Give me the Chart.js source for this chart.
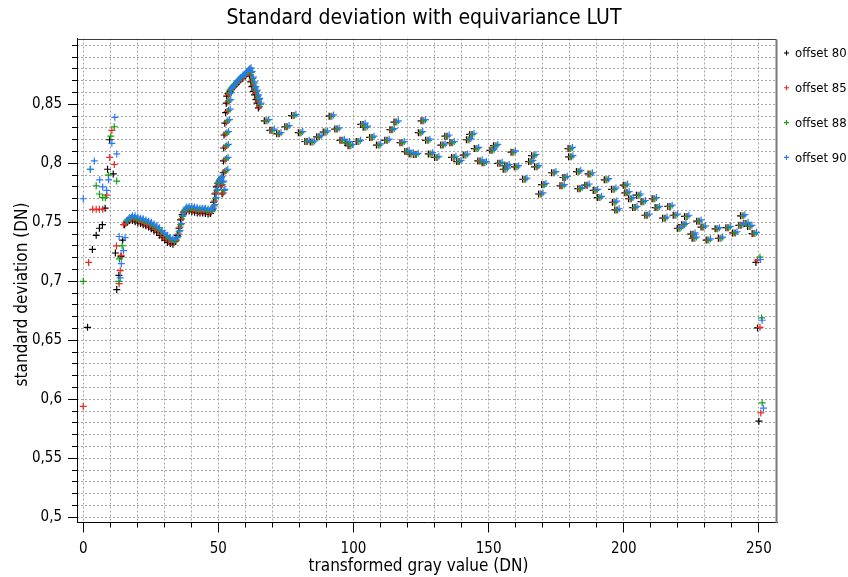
<!DOCTYPE html>
<html>
<head>
<meta charset="utf-8">
<script src="https://cdn.jsdelivr.net/npm/chart.js@4.4.1/dist/chart.umd.min.js"></script>
<style>
  html, body { margin: 0; padding: 0; background: #ffffff; }
  canvas { display: block; }
</style>
</head>
<body>
<canvas id="chart" width="848" height="577"></canvas>
<script>
// Series names and colours
const seriesLabels = ['offset 80', 'offset 85', 'offset 88', 'offset 90'];
const seriesColors = ['#000000', '#f02828', '#12a012', '#2a78ff'];

// Tick values that carry a label
const xLabelValues = [0, 50, 100, 150, 200, 250];
const yLabelValues = [0.5, 0.55, 0.6, 0.65, 0.7, 0.75, 0.8, 0.85];

// offset 80
const x80 = [
  1.6,3.4,4.8,6.0,7.1,8.1,9.0,9.8,11.1,11.9,12.4,13.2,14.0,14.6,
  15.3,16.2,17.2,18.2,19.2,20.2,21.2,22.2,23.2,24.2,25.2,26.2,27.2,28.2,29.2,30.2,31.2,32.2,33.2,34.1,34.8,35.4,36.0,36.6,37.3,38.2,39.2,40.2,41.2,42.2,43.2,44.2,45.2,46.2,47.1,47.7,48.2,48.7,49.2,49.8,50.4,51.0,51.4,
  51.8,51.9,52.0,52.1,52.4,52.7,52.9,53.1,
  53.6,54.3,55.0,55.8,56.6,57.4,58.2,59.0,59.8,60.5,61.1,
  61.5,62.0,62.4,62.9,63.4,63.9,64.3,64.8,
  67.0,69.1,71.6,74.6,77.1,79.6,82.0,84.0,86.4,88.8,91.0,93.1,95.0,96.9,98.0,101.0,102.7,103.6,106.0,108.5,
  111.6,113.5,115.0,117.2,119.0,120.6,122.3,124.0,125.0,126.7,127.7,130.0,132.3,133.8,135.7,136.3,138.2,140.6,141.8,143.0,
  144.7,146.0,147.6,150.5,151.8,153.4,155.4,156.0,158.3,159.5,162.6,164.8,165.9,167.0,168.5,169.6,173.3,176.4,177.5,179.4,
  179.6,182.5,183.0,185.6,186.8,188.7,190.2,192.8,195.5,195.8,196.7,199.8,200.4,201.8,203.3,204.7,206.4,207.8,210.5,211.6,
  214.4,216.3,218.3,219.8,221.4,222.5,224.8,225.3,227.0,228.6,230.5,233.8,235.0,237.8,240.3,242.6,243.2,244.4,245.8,247.5,
  248.9,249.5,250.0
];
const y80 = [
  0.661,0.727,0.739,0.745,0.748,0.762,0.795,0.820,0.791,0.724,0.693,0.705,0.721,0.735,
  0.748,0.750,0.7515,0.7515,0.7505,0.7495,0.749,0.748,0.747,0.746,0.7445,0.743,0.7415,0.739,0.737,0.735,0.733,0.732,0.7315,0.734,0.739,0.745,0.752,0.7565,0.759,0.7595,0.7595,0.759,0.7585,0.758,0.758,0.758,0.7575,0.757,0.7575,0.761,0.767,0.774,0.780,0.783,0.785,0.781,0.774,
  0.792,0.802,0.813,0.824,0.834,0.843,0.851,0.857,
  0.859,0.861,0.863,0.865,0.867,0.869,0.871,0.872,0.874,0.876,0.877,
  0.874,0.869,0.865,0.861,0.858,0.854,0.851,0.847,
  0.836,0.828,0.825,0.831,0.8405,0.826,0.8185,0.818,0.8225,0.8265,0.840,0.829,0.8195,0.8175,0.815,0.8185,0.833,0.8305,0.822,0.8155,
  0.8195,0.8285,0.835,0.8175,0.810,0.808,0.8075,0.826,0.836,0.8195,0.808,0.805,0.8155,0.823,0.8175,0.805,0.8015,0.807,0.820,0.8245,
  0.8125,0.802,0.8005,0.811,0.815,0.800,0.795,0.798,0.8095,0.797,0.7865,0.8015,0.8065,0.797,0.774,0.782,0.792,0.781,0.788,0.8125,
  0.8055,0.793,0.7785,0.7815,0.791,0.777,0.771,0.786,0.778,0.767,0.7605,0.7815,0.775,0.770,0.7625,0.773,0.7675,0.756,0.770,0.7625,
  0.7535,0.7635,0.756,0.745,0.748,0.755,0.740,0.7365,0.751,0.746,0.735,0.7445,0.7365,0.7455,0.741,0.7475,0.7555,0.749,0.7465,0.7405,
  0.716,0.6605,0.5815
];

// offset 85
const x85 = [
  0.0,2.0,3.5,4.8,6.0,7.2,8.7,9.8,10.6,11.5,12.3,13.3,13.7,14.0,14.9,
  15.7,16.6,17.6,18.6,19.6,20.6,21.6,22.6,23.6,24.6,25.6,26.6,27.6,28.6,29.6,30.6,31.6,32.6,33.6,34.5,35.2,35.8,36.4,37.0,37.7,38.6,39.6,40.6,41.6,42.6,43.6,44.6,45.6,46.6,47.5,48.1,48.6,49.1,49.6,50.2,50.8,51.4,51.8,
  52.4,52.5,52.6,52.7,53.0,53.3,53.5,53.7,
  54.0,54.7,55.4,56.2,57.0,57.8,58.6,59.4,60.2,60.9,61.5,
  61.9,62.4,62.8,63.3,63.8,64.3,64.7,65.2,
  67.6,69.7,72.2,75.2,77.7,80.2,82.6,84.6,87.0,89.4,91.6,93.7,95.6,97.5,98.6,101.6,103.3,104.2,106.6,109.1,
  112.2,114.1,115.6,117.8,119.6,121.2,122.9,124.6,125.6,127.3,128.3,130.6,132.9,134.4,136.3,136.9,138.8,141.2,142.4,143.6,
  145.3,146.6,148.2,151.1,152.4,154.0,156.0,156.6,158.9,160.1,163.2,165.4,166.5,167.6,169.1,170.2,173.9,177.0,178.1,180.0,
  180.2,183.1,183.6,186.2,187.4,189.3,190.8,193.4,196.1,196.4,197.3,200.4,201.0,202.4,203.9,205.3,207.0,208.4,211.1,212.2,
  215.0,216.9,218.9,220.4,222.0,223.1,225.4,225.9,227.6,229.2,231.1,234.4,235.6,238.4,240.9,243.2,243.8,245.0,246.4,248.1,
  249.4,250.4,250.7
];
const y85 = [
  0.594,0.716,0.761,0.761,0.761,0.761,0.773,0.805,0.828,0.799,0.730,0.698,0.709,0.722,0.748,
  0.749,0.751,0.753,0.753,0.752,0.751,0.750,0.749,0.748,0.747,0.746,0.744,0.743,0.740,0.738,0.736,0.734,0.733,0.733,0.735,0.740,0.746,0.753,0.758,0.760,0.761,0.761,0.760,0.760,0.759,0.759,0.759,0.759,0.758,0.759,0.762,0.768,0.775,0.781,0.784,0.786,0.782,0.775,
  0.793,0.803,0.814,0.825,0.835,0.844,0.852,0.858,
  0.860,0.862,0.864,0.866,0.868,0.870,0.872,0.873,0.875,0.877,0.878,
  0.875,0.870,0.866,0.862,0.859,0.855,0.852,0.848,
  0.836,0.828,0.825,0.831,0.8405,0.826,0.8185,0.818,0.8225,0.8265,0.840,0.829,0.8195,0.8175,0.815,0.8185,0.833,0.8305,0.822,0.8155,
  0.8195,0.8285,0.835,0.8175,0.810,0.808,0.8075,0.826,0.836,0.8195,0.808,0.805,0.8155,0.823,0.8175,0.805,0.8015,0.807,0.820,0.8245,
  0.8125,0.802,0.8005,0.811,0.815,0.800,0.795,0.798,0.8095,0.797,0.7865,0.8015,0.8065,0.797,0.774,0.782,0.792,0.781,0.788,0.8125,
  0.8055,0.793,0.7785,0.7815,0.791,0.777,0.771,0.786,0.778,0.767,0.7605,0.7815,0.775,0.770,0.7625,0.773,0.7675,0.756,0.770,0.7625,
  0.7535,0.7635,0.756,0.745,0.748,0.755,0.740,0.7365,0.751,0.746,0.735,0.7445,0.7365,0.7455,0.741,0.7475,0.7555,0.749,0.7465,0.7405,
  0.718,0.661,0.5885
];

// offset 88
const x88 = [
  0.0,2.6,4.8,6.0,7.2,8.2,9.3,10.2,11.5,12.4,13.2,13.4,14.4,
  16.0,16.9,17.9,18.9,19.9,20.9,21.9,22.9,23.9,24.9,25.9,26.9,27.9,28.9,29.9,30.9,31.9,32.9,33.9,34.8,35.5,36.1,36.7,37.3,38.0,38.9,39.9,40.9,41.9,42.9,43.9,44.9,45.9,46.9,47.8,48.4,48.9,49.4,49.9,50.5,51.1,51.7,52.1,
  52.9,53.0,53.1,53.2,53.5,53.8,54.0,54.2,
  54.3,55.0,55.7,56.5,57.3,58.1,58.9,59.7,60.5,61.2,61.8,
  62.2,62.7,63.1,63.6,64.1,64.6,65.0,65.5,
  68.0,70.1,72.6,75.6,78.1,80.6,83.0,85.0,87.4,89.8,92.0,94.1,96.0,97.9,99.0,102.0,103.7,104.6,107.0,109.5,
  112.6,114.5,116.0,118.2,120.0,121.6,123.3,125.0,126.0,127.7,128.7,131.0,133.3,134.8,136.7,137.3,139.2,141.6,142.8,144.0,
  145.7,147.0,148.6,151.5,152.8,154.4,156.4,157.0,159.3,160.5,163.6,165.8,166.9,168.0,169.5,170.6,174.3,177.4,178.5,180.4,
  180.6,183.5,184.0,186.6,187.8,189.7,191.2,193.8,196.5,196.8,197.7,200.8,201.4,202.8,204.3,205.7,207.4,208.8,211.5,212.6,
  215.4,217.3,219.3,220.8,222.4,223.5,225.8,226.3,228.0,229.6,231.5,234.8,236.0,238.8,241.3,243.6,244.2,245.4,246.8,248.5,
  250.4,251.0,251.2
];
const y88 = [
  0.700,0.795,0.781,0.774,0.771,0.771,0.790,0.823,0.831,0.785,0.700,0.719,0.730,
  0.751,0.753,0.754,0.754,0.753,0.752,0.752,0.751,0.750,0.749,0.747,0.746,0.744,0.742,0.740,0.738,0.736,0.735,0.734,0.737,0.742,0.748,0.755,0.759,0.762,0.762,0.762,0.762,0.761,0.761,0.761,0.761,0.760,0.760,0.760,0.764,0.770,0.777,0.783,0.786,0.788,0.784,0.777,
  0.794,0.804,0.815,0.826,0.836,0.845,0.853,0.859,
  0.862,0.864,0.866,0.868,0.870,0.872,0.874,0.875,0.877,0.879,0.880,
  0.877,0.872,0.868,0.864,0.861,0.857,0.854,0.850,
  0.836,0.828,0.825,0.831,0.8405,0.826,0.8185,0.818,0.8225,0.8265,0.840,0.829,0.8195,0.8175,0.815,0.8185,0.833,0.8305,0.822,0.8155,
  0.8195,0.8285,0.835,0.8175,0.810,0.808,0.8075,0.826,0.836,0.8195,0.808,0.805,0.8155,0.823,0.8175,0.805,0.8015,0.807,0.820,0.8245,
  0.8125,0.802,0.8005,0.811,0.815,0.800,0.795,0.798,0.8095,0.797,0.7865,0.8015,0.8065,0.797,0.774,0.782,0.792,0.781,0.788,0.8125,
  0.8055,0.793,0.7785,0.7815,0.791,0.777,0.771,0.786,0.778,0.767,0.7605,0.7815,0.775,0.770,0.7625,0.773,0.7675,0.756,0.770,0.7625,
  0.7535,0.7635,0.756,0.745,0.748,0.755,0.740,0.7365,0.751,0.746,0.735,0.7445,0.7365,0.7455,0.741,0.7475,0.7555,0.749,0.7465,0.7405,
  0.7205,0.669,0.597
];

// offset 90
const x90 = [
  0.0,2.7,4.1,6.1,7.2,8.7,9.4,10.6,11.7,12.4,13.3,13.7,14.1,14.9,15.5,
  16.3,17.2,18.2,19.2,20.2,21.2,22.2,23.2,24.2,25.2,26.2,27.2,28.2,29.2,30.2,31.2,32.2,33.2,34.2,35.1,35.8,36.4,37.0,37.6,38.3,39.2,40.2,41.2,42.2,43.2,44.2,45.2,46.2,47.2,48.1,48.7,49.2,49.7,50.2,50.8,51.4,52.0,52.4,
  53.5,53.6,53.7,53.8,54.1,54.4,54.6,54.8,
  54.6,55.3,56.0,56.8,57.6,58.4,59.2,60.0,60.8,61.5,62.1,
  62.5,63.0,63.4,63.9,64.4,64.9,65.3,65.8,
  68.6,70.7,73.2,76.2,78.7,81.2,83.6,85.6,88.0,90.4,92.6,94.7,96.6,98.5,99.6,102.6,104.3,105.2,107.6,110.1,
  113.2,115.1,116.6,118.8,120.6,122.2,123.9,125.6,126.6,128.3,129.3,131.6,133.9,135.4,137.3,137.9,139.8,142.2,143.4,144.6,
  146.3,147.6,149.2,152.1,153.4,155.0,157.0,157.6,159.9,161.1,164.2,166.4,167.5,168.6,170.1,171.2,174.9,178.0,179.1,181.0,
  181.2,184.1,184.6,187.2,188.4,190.3,191.8,194.4,197.1,197.4,198.3,201.4,202.0,203.4,204.9,206.3,208.0,209.4,212.1,213.2,
  216.0,217.9,219.9,221.4,223.0,224.1,226.4,226.9,228.6,230.2,232.1,235.4,236.6,239.4,241.9,244.2,244.8,246.0,247.4,249.1,
  250.6,251.2,251.7
];
const y90 = [
  0.770,0.795,0.802,0.786,0.780,0.777,0.786,0.817,0.839,0.808,0.738,0.703,0.715,0.726,0.737,
  0.752,0.754,0.7555,0.7555,0.7545,0.7535,0.753,0.752,0.751,0.750,0.7485,0.747,0.7455,0.743,0.741,0.739,0.737,0.736,0.7355,0.738,0.743,0.749,0.756,0.7605,0.763,0.7635,0.7635,0.763,0.7625,0.762,0.762,0.762,0.7615,0.761,0.7615,0.765,0.771,0.778,0.784,0.787,0.789,0.785,0.778,
  0.795,0.805,0.816,0.827,0.837,0.846,0.854,0.860,
  0.863,0.865,0.867,0.869,0.871,0.873,0.875,0.876,0.878,0.880,0.881,
  0.878,0.873,0.869,0.865,0.862,0.858,0.855,0.851,
  0.837,0.829,0.826,0.832,0.8415,0.827,0.8195,0.819,0.8235,0.8275,0.841,0.830,0.8205,0.8185,0.816,0.8195,0.834,0.8315,0.823,0.8165,
  0.8205,0.8295,0.836,0.8185,0.811,0.809,0.8085,0.827,0.837,0.8205,0.809,0.806,0.8165,0.824,0.8185,0.806,0.8025,0.808,0.821,0.8255,
  0.8135,0.803,0.8015,0.812,0.816,0.801,0.796,0.799,0.8105,0.798,0.7875,0.8025,0.8075,0.798,0.775,0.783,0.793,0.782,0.789,0.8135,
  0.8065,0.794,0.7795,0.7825,0.792,0.778,0.772,0.787,0.779,0.768,0.7615,0.7825,0.776,0.771,0.7635,0.774,0.7685,0.757,0.771,0.7635,
  0.7545,0.7645,0.757,0.746,0.749,0.756,0.741,0.7375,0.752,0.747,0.736,0.7455,0.7375,0.7465,0.742,0.7485,0.7565,0.750,0.7475,0.7415,
  0.7185,0.667,0.5925
];

const seriesX = [x80, x85, x88, x90];
const seriesY = [y80, y85, y88, y90];

// Axis ranges
const X_MIN = -2.3, X_MAX = 256.7;
const Y_MIN = 0.4956, Y_MAX = 0.9058;

const FONT = '"DejaVu Sans Condensed", "DejaVu Sans", sans-serif';

function toPoints(xs, ys) {
  const n = Math.min(xs.length, ys.length);
  const out = [];
  for (let i = 0; i < n; i++) out.push({ x: xs[i], y: ys[i] });
  return out;
}
const inList = (list, v) => list.some(t => Math.abs(t - v) < 1e-6);
const commaNumber = v => String(Math.round(v * 100) / 100).replace('.', ',');

const datasets = seriesLabels.map((label, i) => ({
  label,
  data: toPoints(seriesX[i], seriesY[i]),
  showLine: false,
  pointStyle: 'cross',
  pointRadius: 3.5,
  pointBorderWidth: 1.2,
  borderColor: seriesColors[i],
  backgroundColor: seriesColors[i],
  pointBorderColor: seriesColors[i],
  order: seriesLabels.length - i,
  xAxisID: 'x',
  yAxisID: 'y'
}));

// Top and right edges of the plot frame
const plotFrame = {
  id: 'plotFrame',
  afterDraw(chart) {
    const { ctx, chartArea: a } = chart;
    const l = Math.round(a.left) + 0.5, r = Math.round(a.right) - 0.5, t = Math.round(a.top) + 0.5;
    ctx.save();
    ctx.strokeStyle = '#3c3c3c';
    ctx.lineWidth = 1;
    ctx.beginPath();
    ctx.moveTo(l, t); ctx.lineTo(r, t);
    ctx.stroke();
    ctx.strokeStyle = '#7a7a7a';
    ctx.lineWidth = 2;
    ctx.beginPath();
    ctx.moveTo(r, t); ctx.lineTo(r, Math.round(a.bottom));
    ctx.stroke();
    ctx.restore();
  }
};

// Axis titles
const axisTitles = {
  id: 'axisTitles',
  afterDraw(chart) {
    const { ctx, chartArea: a } = chart;
    ctx.save();
    ctx.fillStyle = '#000';
    ctx.font = '17px ' + FONT;
    ctx.textAlign = 'center';
    ctx.textBaseline = 'alphabetic';
    ctx.fillText('transformed gray value (DN)', (a.left + a.right) / 2 - 8.5, chart.height - 6);
    ctx.translate(27, (a.top + a.bottom) / 2 + 14);
    ctx.rotate(-Math.PI / 2);
    ctx.fillText('standard deviation (DN)', 0, 0);
    ctx.restore();
  }
};

// Legend at the right of the plot
const sideLegend = {
  id: 'sideLegend',
  afterDraw(chart) {
    const { ctx, chartArea: a } = chart;
    ctx.save();
    chart.data.datasets.forEach((ds, i) => {
      const yc = a.top + 14.5 + i * 34.8;
      const xc = a.right + 9.5;
      ctx.strokeStyle = ds.borderColor;
      ctx.lineWidth = 1.1;
      ctx.beginPath();
      ctx.moveTo(xc - 2.5, yc); ctx.lineTo(xc + 2.5, yc);
      ctx.moveTo(xc, yc - 2.5); ctx.lineTo(xc, yc + 2.5);
      ctx.stroke();
      ctx.fillStyle = '#000';
      ctx.font = '13px ' + FONT;
      ctx.textAlign = 'left';
      ctx.textBaseline = 'middle';
      ctx.fillText(ds.label, xc + 8.5, yc + 1);
    });
    ctx.restore();
  }
};

new Chart(document.getElementById('chart'), {
  type: 'scatter',
  data: { datasets },
  options: {
    responsive: false,
    animation: false,
    devicePixelRatio: 1,
    events: [],
    layout: { padding: 0 },
    plugins: {
      legend: { display: false },
      tooltip: { enabled: false },
      title: {
        display: true,
        text: 'Standard deviation with equivariance LUT',
        color: '#000',
        font: { family: FONT, size: 21, weight: 'normal' },
        padding: { top: 5.5, bottom: 7.8 }
      }
    },
    scales: {
      x: {
        type: 'linear', position: 'bottom', weight: 1,
        min: X_MIN, max: X_MAX,
        ticks: {
          stepSize: 50, includeBounds: false, autoSkip: false, maxRotation: 0,
          padding: 8, color: '#000', font: { family: FONT, size: 15 },
          callback: v => inList(xLabelValues, v) ? String(v) : null
        },
        grid: { drawOnChartArea: false, tickLength: 10, tickColor: '#000', tickWidth: 1 },
        border: { display: true, color: '#000', width: 1 },
        afterFit: s => { s.height = 54.5; }
      },
      xMinor: {
        type: 'linear', axis: 'x', position: 'bottom', weight: 0,
        min: X_MIN, max: X_MAX,
        ticks: { stepSize: 10, includeBounds: false, display: false },
        grid: { drawOnChartArea: true, color: '#a6a6a6', lineWidth: 1, tickLength: 5, tickColor: '#000', tickWidth: 1 },
        border: { display: false, dash: [2, 2] },
        afterFit: s => { s.height = 0; }
      },
      y: {
        type: 'linear', position: 'left', weight: 1,
        min: Y_MIN, max: Y_MAX,
        ticks: {
          stepSize: 0.05, includeBounds: false, autoSkip: false,
          padding: 6, color: '#000', font: { family: FONT, size: 15 },
          callback: v => inList(yLabelValues, v) ? commaNumber(v) : null
        },
        grid: { drawOnChartArea: false, tickLength: 9, tickColor: '#000', tickWidth: 1 },
        border: { display: true, color: '#000', width: 1 },
        afterFit: s => { s.width = 77; }
      },
      yMinor: {
        type: 'linear', axis: 'y', position: 'left', weight: 0,
        min: Y_MIN, max: Y_MAX,
        ticks: { stepSize: 0.01, includeBounds: false, display: false },
        grid: { drawOnChartArea: true, color: '#a6a6a6', lineWidth: 1, tickLength: 5, tickColor: '#000', tickWidth: 1 },
        border: { display: false, dash: [2, 2] },
        afterFit: s => { s.width = 0; }
      },
      // empty band on the right that holds the legend
      legendSpace: {
        type: 'linear', axis: 'y', position: 'right',
        min: Y_MIN, max: Y_MAX,
        ticks: { display: false },
        grid: { display: false, drawTicks: false },
        border: { display: false },
        afterFit: s => { s.width = 71; }
      }
    }
  },
  plugins: [plotFrame, axisTitles, sideLegend]
});
</script>
</body>
</html>
